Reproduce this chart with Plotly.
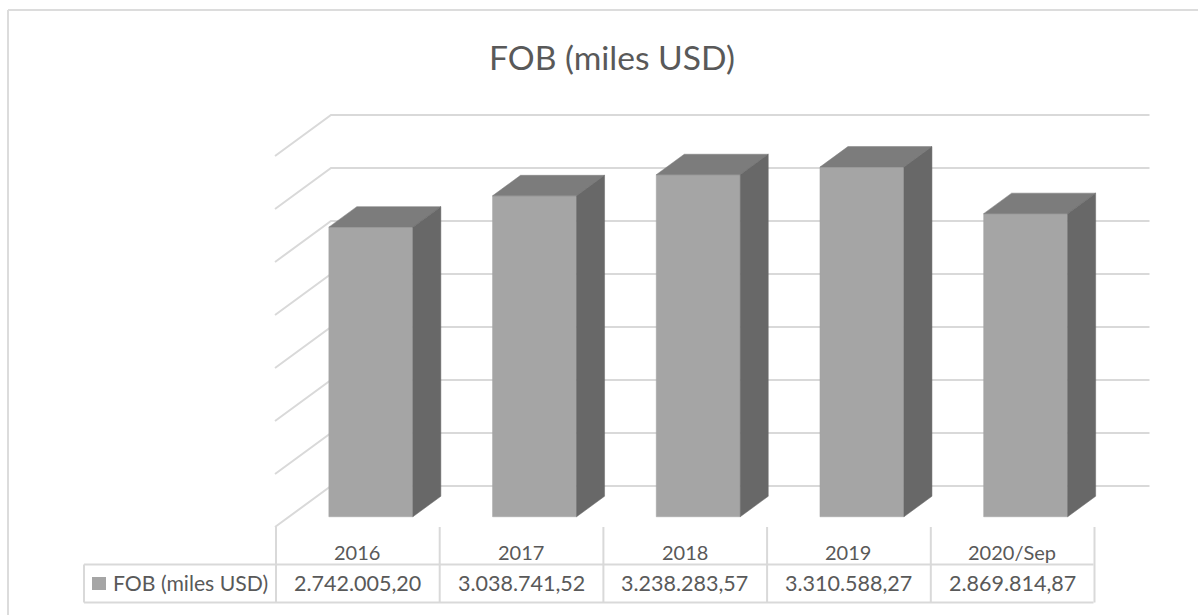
import plotly.graph_objects as go

categories = ["2016", "2017", "2018", "2019", "2020/Sep"]
values = [2742005.20, 3038741.52, 3238283.57, 3310588.27, 2869814.87]
value_labels = ["2.742.005,20", "3.038.741,52", "3.238.283,57", "3.310.588,27", "2.869.814,87"]
grid_values = [0, 500000, 1000000, 1500000, 2000000, 2500000, 3000000, 3500000]
series_name = "FOB (miles USD)"
title_text = "FOB (miles USD)"

W, H = 1198, 615
FONT = "Lato, Carlito, 'Open Sans', sans-serif"
TEXT = "#595959"
GRID = "#d9d9d9"
FRONT, TOP, SIDE = "#a5a5a5", "#7c7c7c", "#686868"

COL = 163.7            # px per category
X0 = 275               # px of left table edge
Y0 = 527               # px of value 0 on the front plane
PX_PER_UNIT = 53 / 500000
DX = 56 / COL          # oblique depth, x units
DY = 41 / PX_PER_UNIT  # oblique depth, y units
BAR_W = 84 / COL
BAR_SCALE = 0.9964     # bars are drawn slightly foreshortened against the back wall
D0, D1 = 0.25, 0.75    # bar front/back position inside the depth

x_range = [(0 - X0) / COL - 0.5, (W - X0) / COL - 0.5]
y_range = [(Y0 - H) / PX_PER_UNIT, Y0 / PX_PER_UNIT]

fig = go.Figure()

# gridlines: side wall diagonal + back wall line
for v in grid_values:
    fig.add_trace(go.Scatter(
        x=[-0.5, -0.5 + DX, len(categories) - 0.5 + DX],
        y=[v, v + DY, v + DY],
        mode="lines", line=dict(color=GRID, width=2),
        hoverinfo="skip", showlegend=False))


def poly(xs, ys, color):
    fig.add_trace(go.Scatter(
        x=xs + xs[:1], y=ys + ys[:1], mode="lines", fill="toself",
        fillcolor=color, line=dict(color=color, width=0.5),
        hoverinfo="skip", showlegend=False))


for i, v in enumerate(values):
    l = i - BAR_W / 2 + D0 * DX
    r = i + BAR_W / 2 + D0 * DX
    b = D0 * DY
    t = v * BAR_SCALE + D0 * DY
    ddx = (D1 - D0) * DX
    ddy = (D1 - D0) * DY
    poly([l, r, r, l], [b, b, t, t], FRONT)
    poly([l, r, r + ddx, l + ddx], [t, t, t + ddy, t + ddy], TOP)
    poly([r, r + ddx, r + ddx, r], [b, b + ddy, t + ddy, t], SIDE)

shapes = []


def seg(x0, y0, x1, y1, color=GRID, w=2):
    shapes.append(dict(type="line", xref="paper", yref="paper",
                       x0=x0 / W, x1=x1 / W, y0=1 - y0 / H, y1=1 - y1 / H,
                       line=dict(color=color, width=w)))


# outer chart frame
seg(8, 10, W, 10, "#dcdcdc", 2)
seg(8, 10, 8, H, "#dcdcdc", 2)

# data table
ROW_TOP, ROW_BOT = 564.5, 602.5
seg(84, ROW_TOP, X0 + COL * len(categories), ROW_TOP)
seg(84, ROW_BOT, X0 + COL * len(categories), ROW_BOT)
seg(84, ROW_TOP, 84, ROW_BOT)
for i in range(len(categories) + 1):
    seg(X0 + COL * i + 1, Y0, X0 + COL * i + 1, ROW_BOT)
# legend swatch
shapes.append(dict(type="rect", xref="paper", yref="paper",
                   x0=92 / W, x1=106 / W, y0=1 - 590 / H, y1=1 - 577 / H,
                   fillcolor=FRONT, line=dict(width=0)))

ann = []


def label(text, px, py, size=21, anchor="center"):
    ann.append(dict(text=text, xref="paper", yref="paper", x=px / W, y=1 - py / H,
                    showarrow=False, xanchor=anchor, yanchor="middle",
                    font=dict(family=FONT, size=size, color=TEXT)))


label(title_text, 611.5, 56.5, 33.6)
label(series_name, 111, 583, 21.2, "left")
for i, (c, s) in enumerate(zip(categories, value_labels)):
    cx = X0 + COL * (i + 0.5) + 0.5
    label(c, cx, 552, 20)
    label(s, cx, 583, 21.5)

fig.update_layout(
    width=W, height=H, margin=dict(l=0, r=0, t=0, b=0),
    paper_bgcolor="white", plot_bgcolor="white", showlegend=False,
    xaxis=dict(range=x_range, visible=False, fixedrange=True),
    yaxis=dict(range=y_range, visible=False, fixedrange=True),
    shapes=shapes, annotations=ann,
)
fig.write_html("out.html", config=dict(displayModeBar=False),
               post_script="document.body.style.margin='0';document.documentElement.style.overflow='hidden';")
